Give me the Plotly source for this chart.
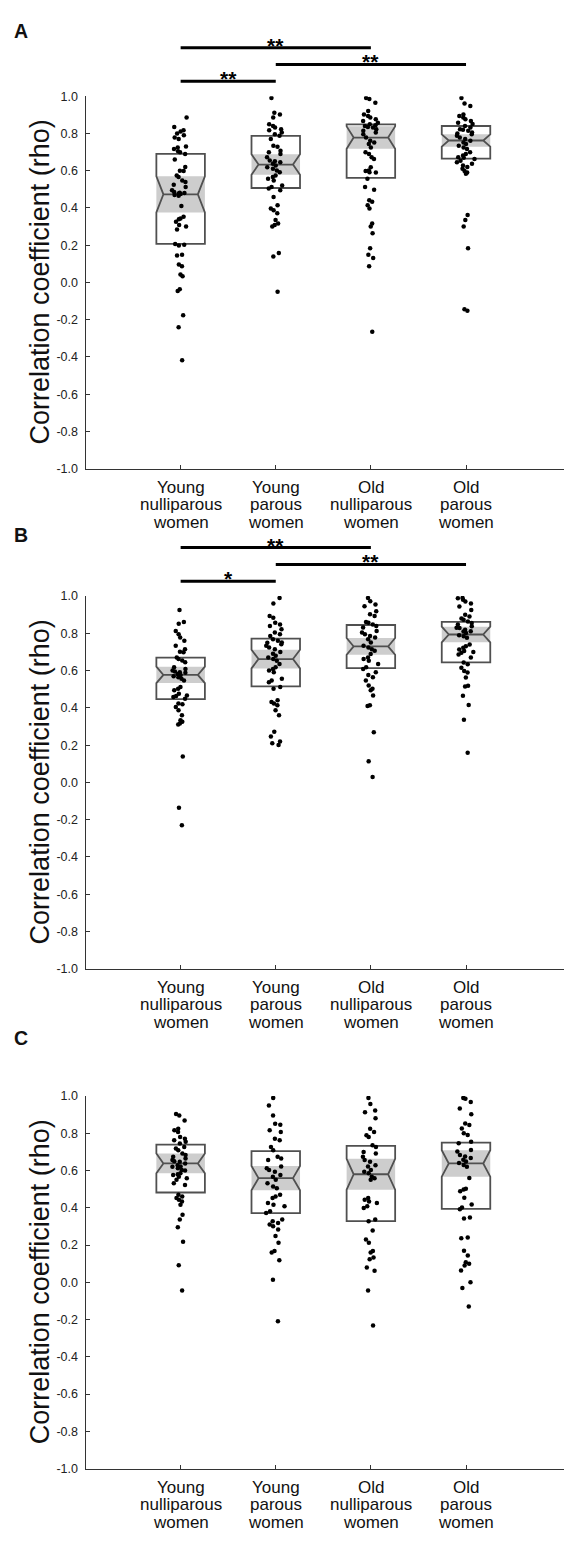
import plotly.graph_objects as go

# ---------------- data ----------------
categories = ["Young nulliparous women", "Young parous women",
              "Old nulliparous women", "Old parous women"]
y_tick_values = [1.0, 0.8, 0.6, 0.4, 0.2, 0.0, -0.2, -0.4, -0.6, -0.8, -1.0]
y_tick_labels = ["1.0", "0.8", "0.6", "0.4", "0.2", "0.0", "-0.2", "-0.4", "-0.6", "-0.8", "-1.0"]
y_title = "Correlation coefficient (rho)"
panel_labels = ["A", "B", "C"]

# Panel A box statistics
a_q1 = [0.207, 0.507, 0.562, 0.665]
a_median = [0.473, 0.633, 0.778, 0.762]
a_q3 = [0.690, 0.787, 0.849, 0.840]
a_notch = [0.097, 0.055, 0.060, 0.033]
# Panel B box statistics
b_q1 = [0.447, 0.515, 0.613, 0.644]
b_median = [0.577, 0.662, 0.730, 0.794]
b_q3 = [0.670, 0.772, 0.845, 0.862]
b_notch = [0.044, 0.050, 0.045, 0.042]
# Panel C box statistics
c_q1 = [0.482, 0.371, 0.328, 0.394]
c_median = [0.638, 0.559, 0.580, 0.638]
c_q3 = [0.739, 0.704, 0.732, 0.750]
c_notch = [0.053, 0.065, 0.083, 0.071]

# Panel A individual correlation coefficients
a_young_nullip = [0.885, 0.835, 0.817, 0.810, 0.800, 0.790, 0.778, 0.770, 0.730, 0.725, 0.716, 0.704,
                  0.699, 0.690, 0.660, 0.620, 0.600, 0.598, 0.574, 0.566, 0.548, 0.539, 0.525, 0.512,
                  0.495, 0.486, 0.482, 0.480, 0.477, 0.475, 0.470, 0.465, 0.410, 0.353, 0.344, 0.339,
                  0.326, 0.309, 0.300, 0.285, 0.207, 0.202, 0.199, 0.149, 0.145, 0.096, 0.087, 0.043,
                  0.034, -0.037, -0.046, -0.176, -0.241, -0.418]
a_young_parous = [0.990, 0.911, 0.902, 0.885, 0.849, 0.840, 0.832, 0.823, 0.817, 0.805, 0.796, 0.787,
                  0.770, 0.734, 0.729, 0.707, 0.699, 0.690, 0.672, 0.655, 0.651, 0.645, 0.637, 0.628,
                  0.619, 0.610, 0.601, 0.592, 0.574, 0.566, 0.557, 0.548, 0.521, 0.512, 0.504, 0.495,
                  0.459, 0.415, 0.397, 0.388, 0.371, 0.335, 0.317, 0.309, 0.300, 0.158, 0.140, -0.050]
a_old_nullip = [0.990, 0.985, 0.965, 0.920, 0.902, 0.894, 0.885, 0.876, 0.867, 0.858, 0.849, 0.844,
                0.840, 0.835, 0.832, 0.823, 0.814, 0.805, 0.796, 0.778, 0.761, 0.752, 0.743, 0.725,
                0.699, 0.690, 0.672, 0.663, 0.619, 0.601, 0.598, 0.592, 0.590, 0.557, 0.512, 0.498,
                0.441, 0.433, 0.415, 0.397, 0.317, 0.300, 0.264, 0.184, 0.149, 0.131, 0.087, -0.264]
a_old_parous = [0.990, 0.961, 0.947, 0.902, 0.894, 0.885, 0.876, 0.867, 0.858, 0.850, 0.840, 0.832,
                0.823, 0.820, 0.814, 0.805, 0.800, 0.796, 0.787, 0.778, 0.770, 0.761, 0.752, 0.743,
                0.734, 0.725, 0.716, 0.699, 0.690, 0.681, 0.672, 0.670, 0.663, 0.654, 0.645, 0.637,
                0.628, 0.620, 0.610, 0.598, 0.590, 0.583, 0.362, 0.335, 0.300, 0.184, -0.144, -0.152]

# Panel B
b_young_nullip = [0.925, 0.861, 0.852, 0.813, 0.795, 0.778, 0.760, 0.733, 0.715, 0.701, 0.698, 0.671,
                  0.663, 0.654, 0.645, 0.618, 0.609, 0.600, 0.595, 0.591, 0.588, 0.582, 0.577, 0.570,
                  0.565, 0.556, 0.547, 0.512, 0.503, 0.494, 0.476, 0.467, 0.464, 0.458, 0.449, 0.423,
                  0.420, 0.405, 0.387, 0.361, 0.334, 0.325, 0.316, 0.311, 0.139, -0.136, -0.230]
b_young_parous = [0.990, 0.960, 0.893, 0.884, 0.857, 0.848, 0.840, 0.822, 0.804, 0.795, 0.786, 0.769,
                  0.760, 0.751, 0.750, 0.742, 0.733, 0.724, 0.715, 0.700, 0.690, 0.680, 0.671, 0.662,
                  0.653, 0.636, 0.618, 0.609, 0.600, 0.591, 0.556, 0.547, 0.538, 0.512, 0.503, 0.441,
                  0.432, 0.423, 0.414, 0.387, 0.361, 0.272, 0.246, 0.219, 0.210, 0.201]
b_old_nullip = [0.990, 0.972, 0.955, 0.946, 0.919, 0.902, 0.893, 0.861, 0.857, 0.848, 0.840, 0.831,
                0.813, 0.804, 0.795, 0.786, 0.778, 0.769, 0.751, 0.733, 0.724, 0.715, 0.707, 0.689,
                0.671, 0.662, 0.653, 0.636, 0.618, 0.609, 0.591, 0.577, 0.565, 0.547, 0.520, 0.503,
                0.494, 0.467, 0.414, 0.410, 0.269, 0.113, 0.029]
b_old_parous = [0.990, 0.988, 0.980, 0.971, 0.960, 0.944, 0.926, 0.900, 0.891, 0.880, 0.873, 0.864,
                0.856, 0.847, 0.838, 0.830, 0.829, 0.820, 0.811, 0.810, 0.802, 0.790, 0.785, 0.776,
                0.740, 0.731, 0.723, 0.714, 0.705, 0.700, 0.696, 0.687, 0.670, 0.643, 0.634, 0.616,
                0.598, 0.590, 0.563, 0.519, 0.515, 0.465, 0.416, 0.336, 0.159]

# Panel C
c_young_nullip = [0.904, 0.895, 0.869, 0.824, 0.816, 0.807, 0.780, 0.771, 0.762, 0.754, 0.745, 0.727,
                  0.718, 0.709, 0.691, 0.683, 0.674, 0.665, 0.656, 0.650, 0.647, 0.638, 0.629, 0.621,
                  0.620, 0.612, 0.603, 0.600, 0.585, 0.580, 0.576, 0.567, 0.559, 0.550, 0.532, 0.523,
                  0.470, 0.461, 0.452, 0.443, 0.434, 0.417, 0.363, 0.337, 0.296, 0.218, 0.092, -0.044]
c_young_parous = [0.990, 0.949, 0.895, 0.851, 0.846, 0.816, 0.807, 0.771, 0.762, 0.727, 0.709, 0.674,
                  0.665, 0.656, 0.621, 0.612, 0.603, 0.594, 0.576, 0.567, 0.550, 0.532, 0.514, 0.505,
                  0.470, 0.461, 0.452, 0.426, 0.417, 0.408, 0.381, 0.372, 0.337, 0.328, 0.319, 0.310,
                  0.301, 0.284, 0.248, 0.213, 0.168, 0.160, 0.119, 0.014, -0.209]
c_old_nullip = [0.990, 0.957, 0.922, 0.913, 0.881, 0.824, 0.807, 0.789, 0.780, 0.736, 0.727, 0.700,
                0.691, 0.674, 0.656, 0.647, 0.629, 0.621, 0.603, 0.594, 0.585, 0.567, 0.559, 0.550,
                0.452, 0.443, 0.434, 0.426, 0.408, 0.399, 0.337, 0.328, 0.278, 0.230, 0.213, 0.168,
                0.160, 0.133, 0.124, 0.080, 0.062, -0.044, -0.232]
c_old_parous = [0.990, 0.985, 0.968, 0.933, 0.902, 0.853, 0.844, 0.826, 0.800, 0.791, 0.755, 0.746,
                0.710, 0.702, 0.684, 0.676, 0.667, 0.658, 0.649, 0.640, 0.630, 0.620, 0.560, 0.502,
                0.498, 0.489, 0.454, 0.418, 0.401, 0.392, 0.348, 0.342, 0.241, 0.236, 0.170, 0.144,
                0.108, 0.099, 0.090, 0.064, 0.000, -0.030, -0.130]

# significance comparisons (category index pairs), stacking level and mark
a_sig_pairs = [[0, 1], [1, 3], [0, 2]]
a_sig_levels = [1, 2, 3]
a_sig_marks = ["**", "**", "**"]
b_sig_pairs = [[0, 1], [1, 3], [0, 2]]
b_sig_levels = [1, 2, 3]
b_sig_marks = ["*", "**", "**"]

# ---------------- layout geometry (pixels) ----------------
W, H = 564, 1541
FONT = "Liberation Sans, Arial, Helvetica, sans-serif"
plot_left = 85.5
panel_tops = [90.0, 594.5, 1099.0]
plot_h = 376.0
label_y = [24.5, 533.0, 1040.0]
sig_h = 68.0
box_w = 0.51
line_col = "#505050"
axis_col = "#333333"


def pyf(px):
    return 1 - px / H


panels = [
    dict(q1=a_q1, med=a_median, q3=a_q3, notch=a_notch,
         pts=[a_young_nullip, a_young_parous, a_old_nullip, a_old_parous],
         sig=(a_sig_pairs, a_sig_levels, a_sig_marks)),
    dict(q1=b_q1, med=b_median, q3=b_q3, notch=b_notch,
         pts=[b_young_nullip, b_young_parous, b_old_nullip, b_old_parous],
         sig=(b_sig_pairs, b_sig_levels, b_sig_marks)),
    dict(q1=c_q1, med=c_median, q3=c_q3, notch=c_notch,
         pts=[c_young_nullip, c_young_parous, c_old_nullip, c_old_parous],
         sig=None),
]

fig = go.Figure()
annotations = []
layout = {}
cat_pos = list(range(len(categories)))
sig_axis_num = 4

for p, pan in enumerate(panels):
    sfx = "" if p == 0 else str(p + 1)
    xa, ya = "x" + sfx, "y" + sfx
    top = panel_tops[p]
    bot = top + plot_h

    # grey notch band (full box width)
    fig.add_trace(go.Bar(
        x=cat_pos, y=[2 * n for n in pan["notch"]],
        base=[m - n for m, n in zip(pan["med"], pan["notch"])],
        width=box_w, marker=dict(color="#cdcdcd", line=dict(width=0)),
        xaxis=xa, yaxis=ya, showlegend=False, hoverinfo="skip"))

    # notched box outlines
    fig.add_trace(go.Box(
        x=cat_pos, q1=pan["q1"], median=pan["med"], q3=pan["q3"],
        lowerfence=pan["q1"], upperfence=pan["q3"], notchspan=pan["notch"],
        notched=True, notchwidth=0.145, width=box_w, whiskerwidth=0,
        fillcolor="rgba(0,0,0,0)", line=dict(color=line_col, width=1.8),
        boxpoints=False, xaxis=xa, yaxis=ya, showlegend=False))

    # individual points
    for i, vals in enumerate(pan["pts"]):
        fig.add_trace(go.Box(
            y=vals, x0=i, boxpoints="all", jitter=0.42, pointpos=0,
            width=box_w, fillcolor="rgba(0,0,0,0)",
            line=dict(width=0, color="rgba(0,0,0,0)"),
            marker=dict(color="black", size=4.5),
            hoveron="points", xaxis=xa, yaxis=ya, showlegend=False))

    layout["xaxis" + sfx] = dict(
        domain=[plot_left / W, 1.0], range=[-1, 4.03], anchor=ya,
        tickvals=cat_pos, showticklabels=False, ticks="inside", ticklen=4,
        tickcolor=axis_col, showline=True, linecolor=axis_col, linewidth=1,
        showgrid=False, zeroline=False, fixedrange=True)
    layout["yaxis" + sfx] = dict(
        domain=[pyf(bot), pyf(top)], range=[-1, 1], anchor=xa,
        tickvals=y_tick_values, ticktext=y_tick_labels, ticks="inside",
        ticklen=4, tickcolor=axis_col, showline=True, linecolor=axis_col,
        linewidth=1, showgrid=False, zeroline=False, fixedrange=True,
        ticklabelstandoff=4,
        tickfont=dict(family=FONT, size=12.5, color="#222222"))

    # category labels (one line per annotation for tight spacing)
    for i, cat in enumerate(categories):
        for k, word in enumerate(cat.split(" ")):
            annotations.append(dict(
                x=i, xref=xa, y=0, yref=ya + " domain", text=word,
                showarrow=False, xanchor="center", yanchor="middle",
                yshift=-(18.5 + 17.6 * k),
                font=dict(family=FONT, size=17, color="#111111")))

    # y-axis title
    annotations.append(dict(
        x=40 / W, xref="paper", y=0.5, yref=ya + " domain", text=y_title,
        textangle=-90, showarrow=False, xanchor="center", yanchor="middle",
        font=dict(family=FONT, size=27, color="#111111")))

    # panel letter
    annotations.append(dict(
        x=20.5 / W, xref="paper", y=pyf(label_y[p]), yref="paper",
        text=panel_labels[p], showarrow=False, xanchor="center",
        yanchor="middle", font=dict(family=FONT, size=19.5, color="#111111",
                                    weight="bold")))

    # significance bars
    if pan["sig"] is not None:
        pairs, levels, marks = pan["sig"]
        sya = "y" + str(sig_axis_num)
        layout["yaxis" + str(sig_axis_num)] = dict(
            domain=[pyf(top), pyf(top - sig_h)], range=[0.1176, 0.1176 + sig_h / 17.0],
            anchor=xa, visible=False, fixedrange=True)
        for (i0, i1), lvl, mk in zip(pairs, levels, marks):
            fig.add_trace(go.Scatter(
                x=[i0, i1], y=[lvl, lvl], mode="lines",
                line=dict(color="black", width=3),
                xaxis=xa, yaxis=sya, showlegend=False, hoverinfo="skip"))
            annotations.append(dict(
                x=(i0 + i1) / 2, xref=xa, y=lvl, yref=sya, text=mk,
                showarrow=False, xanchor="center", yanchor="bottom",
                yshift=-11, font=dict(family=FONT, size=21, color="black",
                                      weight="bold")))
        sig_axis_num += 1

fig.update_layout(
    width=W, height=H, margin=dict(l=0, r=0, t=0, b=0),
    paper_bgcolor="white", plot_bgcolor="white",
    boxmode="overlay", barmode="overlay", showlegend=False,
    annotations=annotations, font=dict(family=FONT),
    **layout)

fig.write_html("out.html")
